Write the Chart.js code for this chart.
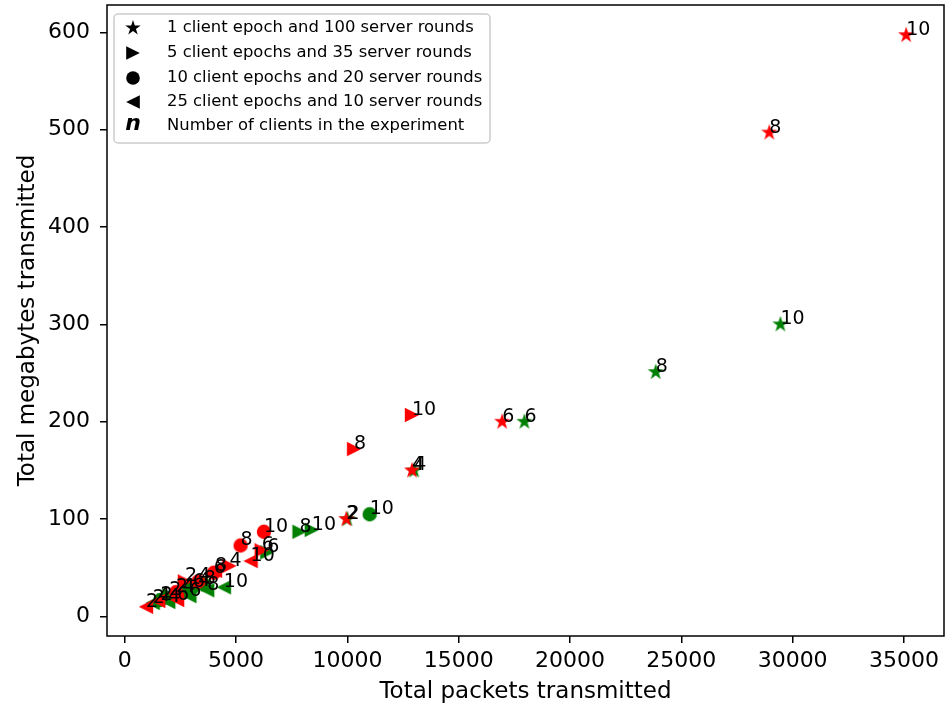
<!DOCTYPE html>
<html>
<head>
<meta charset="utf-8">
<script src="https://cdn.jsdelivr.net/npm/chart.js@4.4.1/dist/chart.umd.min.js"></script>
<style>
  html, body { margin: 0; padding: 0; background: #fff; }
  #wrap { width: 946px; height: 708px; }
</style>
</head>
<body>
<div id="wrap"><canvas id="chart" width="946" height="708"></canvas></div>
<script>
// number of clients, used as the label of every point
const clients = [2, 4, 6, 8, 10];

const xTicks = [0, 5000, 10000, 15000, 20000, 25000, 30000, 35000];
const yTicks = [0, 100, 200, 300, 400, 500, 600];

// red setup
const redStarPackets = [9950, 12900, 16950, 28950, 35100];
const redStarMB = [100, 150, 200, 497, 597];
const redRightPackets = [2700, 4700, 6150, 10300, 12900];
const redRightMB = [36, 52, 68, 172, 207];
const redCirclePackets = [2300, 3300, 4000, 5200, 6250];
const redCircleMB = [25, 36, 45, 73, 87];
const redLeftPackets = [950, 1500, 2350, 4050, 5650];
const redLeftMB = [10, 16, 17, 47, 57];

// green setup
const greenStarPackets = [10000, 13000, 17950, 23850, 29450];
const greenStarMB = [100, 150, 200, 251, 300];
const greenRightPackets = [2000, 3300, 6400, 7850, 8400];
const greenRightMB = [22, 31, 66, 87, 89];
const greenCirclePackets = [1600, 2600, 3050, 3550, 11000];
const greenCircleMB = [17, 25, 30, 33, 105];
const greenLeftPackets = [1250, 1950, 2900, 3700, 4450];
const greenLeftMB = [14, 15, 21, 27, 30];

const legendLabels = [
  '1 client epoch and 100 server rounds',
  '5 client epochs and 35 server rounds',
  '10 client epochs and 20 server rounds',
  '25 client epochs and 10 server rounds',
  'Number of clients in the experiment'
];

const FONT = '"DejaVu Sans", sans-serif';

function marker(shape, color, scale) {
  const k = scale || 1;
  const r = (shape === 'star' ? 8.5 : 7.2) * k;
  const s = 24;
  const c = document.createElement('canvas');
  c.width = s; c.height = s;
  const g = c.getContext('2d');
  g.translate(s / 2, s / 2);
  g.fillStyle = color;
  g.beginPath();
  if (shape === 'star') {
    for (let i = 0; i < 10; i++) {
      const a = -Math.PI / 2 + i * Math.PI / 5;
      const rr = i % 2 ? r * 0.382 : r;
      g.lineTo(Math.cos(a) * rr, Math.sin(a) * rr);
    }
  } else if (shape === 'right') {
    g.moveTo(r, 0); g.lineTo(-r, -r); g.lineTo(-r, r);
  } else if (shape === 'left') {
    g.moveTo(-r, 0); g.lineTo(r, -r); g.lineTo(r, r);
  } else {
    g.arc(0, 0, r, 0, Math.PI * 2);
  }
  g.closePath();
  g.fill();
  return c;
}

function series(label, packets, mb, shape, color) {
  return {
    label: label,
    data: packets.map((x, i) => ({ x: x, y: mb[i] })),
    pointStyle: marker(shape, color),
    pointRadius: 7,
    pointHoverRadius: 7,
    showLine: false
  };
}

// first dataset is drawn on top in Chart.js, so red goes first
const datasets = [
  series('red star', redStarPackets, redStarMB, 'star', '#ff0000'),
  series('red right', redRightPackets, redRightMB, 'right', '#ff0000'),
  series('red circle', redCirclePackets, redCircleMB, 'circle', '#ff0000'),
  series('red left', redLeftPackets, redLeftMB, 'left', '#ff0000'),
  series('green star', greenStarPackets, greenStarMB, 'star', '#008000'),
  series('green right', greenRightPackets, greenRightMB, 'right', '#008000'),
  series('green circle', greenCirclePackets, greenCircleMB, 'circle', '#008000'),
  series('green left', greenLeftPackets, greenLeftMB, 'left', '#008000')
];

const pointLabels = {
  id: 'pointLabels',
  afterDatasetsDraw(chart) {
    const ctx = chart.ctx;
    const area = chart.chartArea;
    ctx.save();
    // frame
    ctx.strokeStyle = '#000';
    ctx.lineWidth = 1.5;
    ctx.strokeRect(area.left, area.top, area.right - area.left, area.bottom - area.top);
    // client counts next to each point
    ctx.font = '19px ' + FONT;
    ctx.fillStyle = '#000';
    ctx.textAlign = 'left';
    ctx.textBaseline = 'alphabetic';
    chart.data.datasets.forEach((ds, i) => {
      chart.getDatasetMeta(i).data.forEach((pt, j) => {
        ctx.fillText(String(clients[j]), pt.x, pt.y);
      });
    });
    ctx.restore();
  }
};

const legendBox = {
  id: 'legendBox',
  afterDraw(chart) {
    const ctx = chart.ctx;
    const shapes = ['star', 'right', 'circle', 'left'];
    const rowY = [28, 53, 78, 102, 126];
    ctx.save();
    ctx.beginPath();
    ctx.roundRect(114, 14, 376, 129, 4);
    ctx.fillStyle = 'rgba(255,255,255,0.8)';
    ctx.fill();
    ctx.strokeStyle = '#cccccc';
    ctx.lineWidth = 1.5;
    ctx.stroke();
    shapes.forEach((s, i) => {
      const m = marker(s, '#000', 0.95);
      ctx.drawImage(m, 133 - m.width / 2, rowY[i] - m.height / 2);
    });
    ctx.fillStyle = '#000';
    ctx.textAlign = 'center';
    ctx.textBaseline = 'middle';
    ctx.font = 'italic bold 22px ' + FONT;
    ctx.fillText('n', 133, rowY[4] - 2);
    ctx.font = '16.4px ' + FONT;
    ctx.textAlign = 'left';
    legendLabels.forEach((t, i) => ctx.fillText(t, 167, rowY[i]));
    ctx.restore();
  }
};

new Chart(document.getElementById('chart'), {
  type: 'scatter',
  data: { datasets: datasets },
  plugins: [pointLabels, legendBox],
  options: {
    responsive: false,
    animation: false,
    devicePixelRatio: 1,
    layout: { autoPadding: false, padding: { top: 5, right: 2, left: 0, bottom: 0 } },
    plugins: { legend: { display: false }, tooltip: { enabled: false } },
    scales: {
      x: {
        type: 'linear',
        min: -800,
        max: 36800,
        afterBuildTicks: s => { s.ticks = xTicks.map(v => ({ value: v })); },
        afterFit: s => { s.height = 72; s.paddingLeft = 0; s.paddingRight = 0; },
        ticks: {
          callback: v => String(v),
          font: { family: FONT, size: 22 },
          color: '#000',
          padding: 5,
          maxRotation: 0,
          autoSkip: false
        },
        grid: { drawOnChartArea: false, drawTicks: true, tickLength: 7, color: '#000', lineWidth: 1.5 },
        border: { display: false },
        title: {
          display: true,
          text: 'Total packets transmitted',
          font: { family: FONT, size: 23 },
          color: '#000',
          padding: { top: 0, bottom: 2 }
        }
      },
      y: {
        type: 'linear',
        min: -20,
        max: 628,
        afterBuildTicks: s => { s.ticks = yTicks.map(v => ({ value: v })); },
        afterFit: s => { s.width = 107; s.paddingTop = 0; s.paddingBottom = 0; },
        ticks: {
          callback: v => String(v),
          font: { family: FONT, size: 22 },
          color: '#000',
          padding: 10
        },
        grid: { drawOnChartArea: false, drawTicks: true, tickLength: 7, color: '#000', lineWidth: 1.5 },
        border: { display: false },
        title: {
          display: true,
          text: 'Total megabytes transmitted',
          font: { family: FONT, size: 23 },
          color: '#000',
          padding: { top: 14, bottom: 0 }
        }
      }
    }
  }
});
</script>
</body>
</html>
